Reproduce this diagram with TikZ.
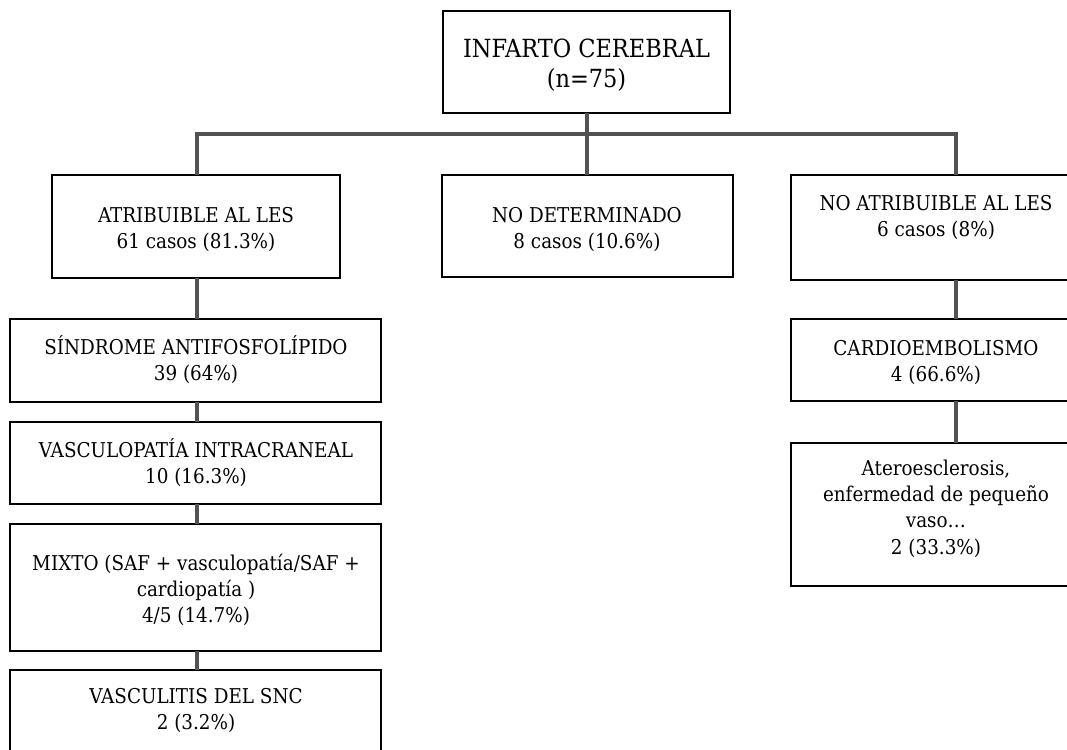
\documentclass[tikz,border=0pt]{standalone}
\usepackage{fontspec}
\setmainfont{DejaVu Serif Condensed}
\begin{document}
\begin{tikzpicture}[x=1pt,y=-1pt,
  box/.style={draw=black,line width=1.8pt,fill=white,inner sep=0pt,outer sep=0pt},
  txt/.style={inner sep=0pt,align=center,anchor=north,font=\fontsize{20.4}{26.3}\selectfont},
  bigtxt/.style={inner sep=0pt,align=center,anchor=north,font=\fontsize{25}{30}\selectfont},
  conn/.style={draw=black!68,line width=3.4pt,line join=miter}]
\useasboundingbox (0,0) rectangle (1067,749);
\fill[white] (0,0) rectangle (1067,749);
\clip (0,0) rectangle (1067,749);
\newcommand{\fs}{\rule{0pt}{22pt}}
\newcommand{\fb}{\rule{0pt}{24pt}}
% boxes
\node[box,minimum width=287pt,minimum height=102pt] (top) at (586.5,62) {};
\node[box,minimum width=288pt,minimum height=103pt] (atr) at (196,226.5) {};
\node[box,minimum width=291pt,minimum height=102pt] (nodet) at (587.5,226) {};
\node[box,minimum width=290pt,minimum height=105pt] (noatr) at (936,227.5) {};
\node[box,minimum width=371pt,minimum height=83pt] (saf) at (195.5,360.5) {};
\node[box,minimum width=371pt,minimum height=82pt] (vasc) at (195.5,463) {};
\node[box,minimum width=371pt,minimum height=127pt] (mixto) at (195.5,587.5) {};
\node[box,minimum width=371pt,minimum height=120pt] (vascul) at (195.5,730) {};
\node[box,minimum width=290pt,minimum height=82pt] (cardio) at (936,360) {};
\node[box,minimum width=290pt,minimum height=143pt] (atero) at (936,514.5) {};
% texts
\node[bigtxt] (ttop) at (586.5,33) {\fb INFARTO CEREBRAL\\(n=75)};
\node[txt] (tatr) at (196,200) {\fs ATRIBUIBLE AL LES\\61 casos (81.3\%)};
\node[txt] (tnodet) at (587,200) {\fs NO DETERMINADO\\8 casos (10.6\%)};
\node[txt] (tnoatr) at (936,188) {\fs NO ATRIBUIBLE AL LES\\6 casos (8\%)};
\node[txt] (tsaf) at (196,332) {\fs SÍNDROME ANTIFOSFOLÍPIDO\\39 (64\%)};
\node[txt] (tvasc) at (196,435) {\fs VASCULOPATÍA INTRACRANEAL\\10 (16.3\%)};
\node[txt] (tmixto) at (196,548) {\fs MIXTO (SAF + vasculopatía/SAF +\\cardiopatía )\\4/5 (14.7\%)};
\node[txt] (tvascul) at (196,681) {\fs VASCULITIS DEL SNC\\2 (3.2\%)};
\node[txt] (tcardio) at (936,333) {\fs CARDIOEMBOLISMO\\4 (66.6\%)};
\node[txt] (tatero) at (936,453) {\fs Ateroesclerosis,\\enfermedad de pequeño\\vaso…\\2 (33.3\%)};
% connectors
\coordinate (bl) at (197,134);
\coordinate (bm) at (587,134);
\coordinate (br) at (956,134);
\draw[conn] (top.south -| bm) -- (bm);
\draw[conn] (bl |- atr.north) -- (bl) -- (br) -- (br |- noatr.north);
\draw[conn] (bm) -- (bm |- nodet.north);
\draw[conn] (bl |- atr.south) -- (bl |- saf.north);
\draw[conn] (bl |- saf.south) -- (bl |- vasc.north);
\draw[conn] (bl |- vasc.south) -- (bl |- mixto.north);
\draw[conn] (bl |- mixto.south) -- (bl |- vascul.north);
\draw[conn] (br |- noatr.south) -- (br |- cardio.north);
\draw[conn] (br |- cardio.south) -- (br |- atero.north);
\end{tikzpicture}
\end{document}
